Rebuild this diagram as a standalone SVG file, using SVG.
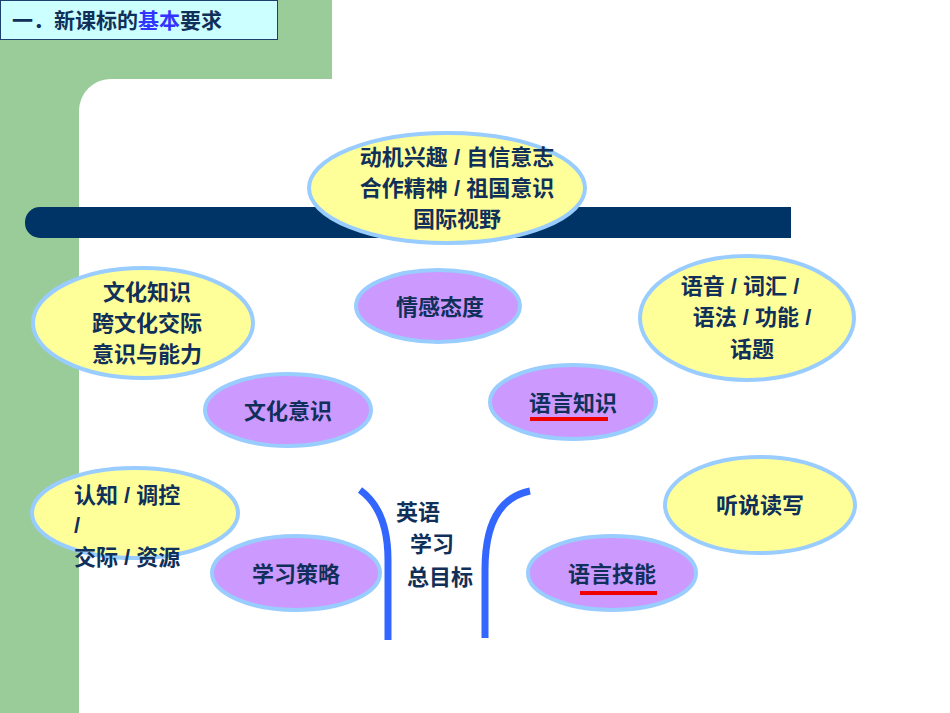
<svg xmlns="http://www.w3.org/2000/svg" width="950" height="713" viewBox="0 0 950 713">
<style>
.t{font-family:"Liberation Sans","Noto Sans CJK SC",sans-serif;font-weight:bold;font-size:22px;fill:#10305a;text-anchor:middle}
.y{fill:#ffff99;stroke:#99ccff;stroke-width:4}
.p{fill:#cc99ff;stroke:#99ccff;stroke-width:4}
</style>
<rect width="950" height="713" fill="#fff"/>
<rect x="0" y="0" width="78" height="713" fill="#99cc99"/>
<rect x="0" y="0" width="332" height="78" fill="#99cc99"/>
<path d="M78,78 H332 V79 H110 A32,32 0 0 0 79,110 V713 H78 Z" fill="#99cc99"/>
<path d="M78,78 h32 a32,32 0 0 0 -32,32 z" fill="#99cc99"/>
<rect x="25" y="207" width="766" height="31" rx="15" fill="#003366"/>
<rect x="40" y="207" width="751" height="31" fill="#003366"/>
<g id="title"><rect x="0.5" y="0.5" width="277" height="39" fill="#ccffff" stroke="#1f3f6f"/>
<text x="12" y="28" class="t" style="text-anchor:start;font-size:21px">一．新课标的<tspan fill="#3333ff">基本</tspan>要求</text></g>
<g id="n1"><ellipse class="y" cx="447" cy="188" rx="138" ry="55"/><text class="t" x="457" y="165">动机兴趣 / 自信意志</text><text class="t" x="457" y="196">合作精神 / 祖国意识</text><text class="t" x="457" y="227">国际视野</text></g>
<g id="n2"><ellipse class="y" cx="143" cy="323" rx="110" ry="55"/><text class="t" x="147" y="300">文化知识</text><text class="t" x="147" y="331">跨文化交际</text><text class="t" x="147" y="362">意识与能力</text></g>
<g id="n3"><ellipse class="p" cx="438" cy="306" rx="82" ry="36"/><text class="t" x="440" y="315">情感态度</text></g>
<g id="n4"><ellipse class="y" cx="747" cy="318" rx="107" ry="62"/><text class="t" x="740" y="294">语音 / 词汇 /</text><text class="t" x="752" y="325">语法 / 功能 /</text><text class="t" x="752" y="357">话题</text></g>
<g id="n5"><ellipse class="p" cx="288" cy="410" rx="83" ry="36"/><text class="t" x="288" y="419">文化意识</text></g>
<g id="n6"><ellipse class="p" cx="573" cy="402" rx="83" ry="37"/><text class="t" x="573" y="411">语言知识</text><rect x="530" y="417" width="78" height="4" fill="#ee0000"/></g>
<g id="n7"><ellipse class="y" cx="135" cy="513" rx="103" ry="45"/><text class="t" x="74" y="503" style="text-anchor:start">认知 / 调控</text><text class="t" x="74" y="533" style="text-anchor:start">/</text><text class="t" x="74" y="565" style="text-anchor:start">交际 / 资源</text></g>
<g id="n8"><ellipse class="y" cx="760" cy="505" rx="95" ry="48"/><text class="t" x="760" y="513">听说读写</text></g>
<g id="n9"><ellipse class="p" cx="296" cy="573" rx="84" ry="37"/><text class="t" x="296" y="582">学习策略</text></g>
<g id="n10"><ellipse class="p" cx="612" cy="573" rx="84" ry="37"/><text class="t" x="612" y="582">语言技能</text><rect x="580" y="591" width="77" height="4" fill="#ee0000"/></g>
<g id="connectors" fill="none" stroke="#3366ff" stroke-width="7">
<path d="M360,490 Q388,510 388,560 V640"/>
<path d="M530,491 Q485,500 485,570 V638"/>
</g>
<g id="center"><text class="t" x="418" y="520">英语</text><text class="t" x="432" y="552">学习</text><text class="t" x="440" y="585">总目标</text></g>
</svg>
